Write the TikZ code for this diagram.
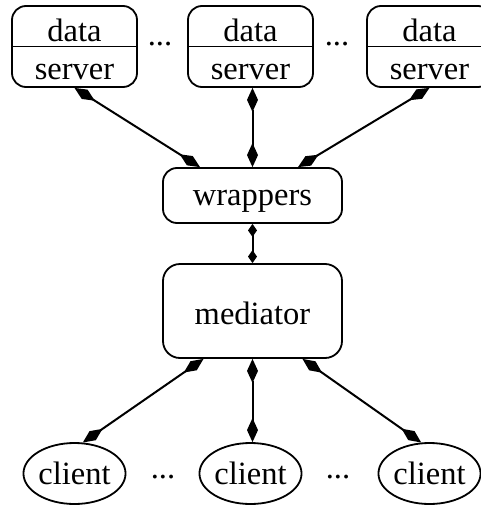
\documentclass[tikz,border=0pt]{standalone}
\usepackage{fontspec}
\setmainfont{Liberation Serif}
\usetikzlibrary{arrows.meta,shapes.geometric}
\begin{document}
\begin{tikzpicture}[x=1pt,y=-1pt,
  line width=1.8pt,
  txt/.style={font=\fontsize{32.5}{36}\selectfont},
  box/.style={draw, rounded corners=14pt, inner sep=0pt, line width=1.8pt},
  serverbox/.style={box, minimum width=125pt, minimum height=81pt},
  lbl/.style={txt, inner sep=0pt, anchor=base},
  clientnode/.style={txt, draw, ellipse, minimum width=96pt, minimum height=61pt, inner sep=0pt},
  link/.style={line width=2pt, arrows={Diamond[length=24pt,width=11pt]-Diamond[length=24pt,width=11pt]}},
  shortlink/.style={line width=2pt, arrows={Diamond[length=13pt,width=9pt]-Diamond[length=13pt,width=9pt]}},
]
\useasboundingbox (0,0) rectangle (481,506);
\clip (0,0) rectangle (481,506);

% data servers
\foreach \n/\x in {1/74.5, 2/250.5, 3/429.5}{
  \node[serverbox] (ds\n) at (\x,46.5) {};
  \draw (ds\n.west) -- (ds\n.east);
  \node[lbl] (ds\n a) at (\x,41.5) {data};
  \node[lbl] (ds\n b) at (\x,79) {server};
}
\node[lbl] (dsdots1) at (160,45) {...};
\node[lbl] (dsdots2) at (337,45) {...};

% wrappers and mediator
\node[box, minimum width=179pt, minimum height=55pt] (wr) at (252.5,195.5) {};
\node[lbl] (wrt) at (252.5,205) {wrappers};
\node[box, rounded corners=17pt, minimum width=179pt, minimum height=94pt] (med) at (252.5,311) {};
\node[lbl] (medt) at (252.5,324) {mediator};

% clients
\foreach \n/\x in {1/74.5, 2/250.5, 3/429.5}{
  \node[clientnode] (cl\n) at (\x,473.5) {client};
}
\node[lbl] (cldots1) at (163,478) {...};
\node[lbl] (cldots2) at (338,478) {...};

% links
\draw[link] (ds1.south) -- ([xshift=-52.5pt]wr.north);
\draw[link] (wr.north |- ds2.south) -- (wr.north);
\draw[link] (ds3.south) -- ([xshift=45.5pt]wr.north);
\draw[shortlink] (wr.south) -- (med.north);
\draw[link] ([xshift=-49pt]med.south) -- (cl1.75);
\draw[link] (med.south) -- (med.south |- cl2.north);
\draw[link] ([xshift=50pt]med.south) -- (cl3.105);
\end{tikzpicture}
\end{document}
